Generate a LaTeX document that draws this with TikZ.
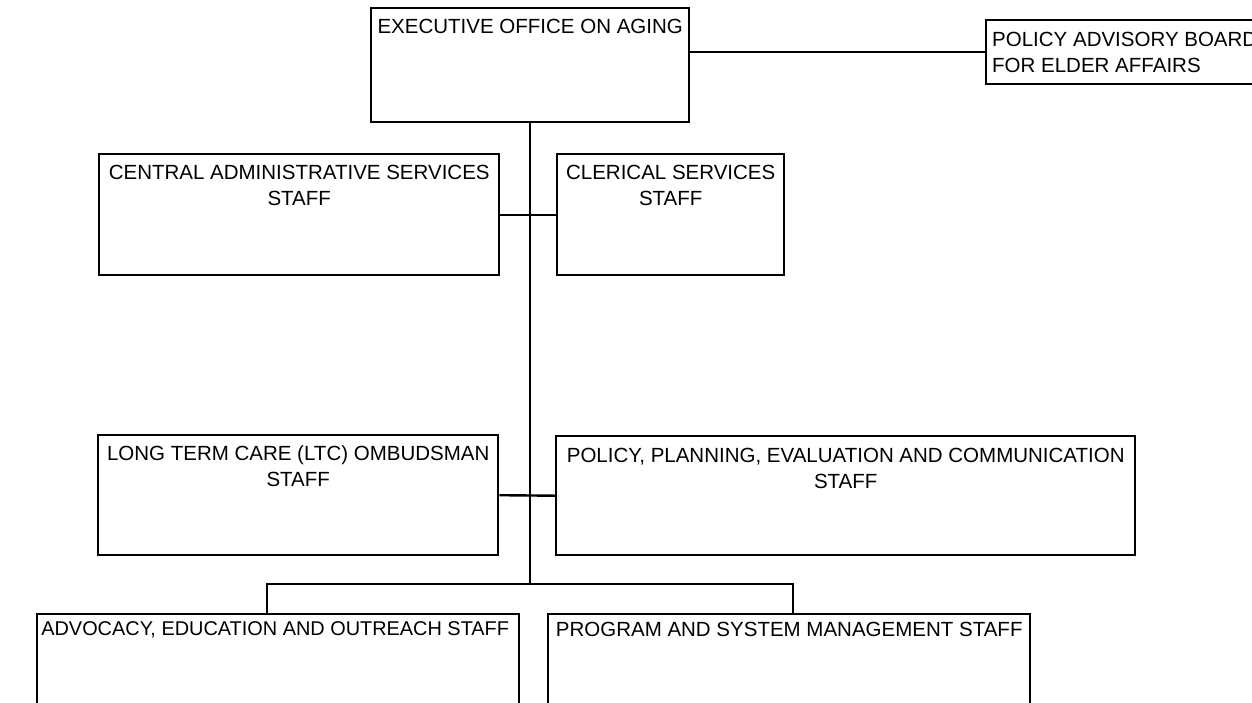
\documentclass[tikz,border=0pt]{standalone}
\usepackage{fontspec}
\setmainfont{Liberation Sans}
\newcommand{\orgfont}{\fontsize{20.5}{26}\selectfont}
\tikzset{
  unitbox/.style = {rectangle, draw=black, line width=2.4pt, anchor=north west,
    inner sep=0pt},% case de l'organigramme
  unittext/.style = {font=\orgfont, align=center, anchor=north, inner sep=0pt,
    yshift=-11.5pt},% titre de la case
  link/.style = {line width=2.4pt}% trait de liaison
}
\begin{document}
\begin{tikzpicture}[x=1pt, y=-1pt]
\clip (0,0) rectangle (1252,702);
\fill [white] (0,0) rectangle (1252,702);
% top level
\node [unitbox, minimum width=318pt, minimum height=114pt,
  label={[unittext]north:EXECUTIVE OFFICE ON AGING}] (exec) at (370,7) {};
\node [unitbox, minimum width=290pt, minimum height=64pt,
  label={[unittext, align=left, anchor=north west, xshift=7pt, yshift=-1.5pt]north west:POLICY ADVISORY BOARD\\FOR ELDER AFFAIRS}] (board) at (985,19) {};
% staff
\node [unitbox, minimum width=400pt, minimum height=121pt,
  label={[unittext]north:CENTRAL ADMINISTRATIVE SERVICES\\STAFF}] (central) at (98,153) {};
\node [unitbox, minimum width=227pt, minimum height=121pt,
  label={[unittext]north:CLERICAL SERVICES\\STAFF}] (clerical) at (556,153) {};
\node [unitbox, minimum width=400pt, minimum height=120pt,
  label={[unittext]north:LONG TERM CARE (LTC) OMBUDSMAN\\STAFF}] (ltc) at (97,434) {};
\node [unitbox, minimum width=579pt, minimum height=119pt,
  label={[unittext, yshift=-1.5pt]north:POLICY, PLANNING, EVALUATION AND COMMUNICATION\\STAFF}] (ppec) at (555,435) {};
% bottom row
\node [unitbox, minimum width=482pt, minimum height=100pt,
  label={[unittext, font=\fontsize{19.9}{26}\selectfont, xshift=-3pt, yshift=3pt]north:ADVOCACY, EDUCATION AND OUTREACH STAFF}] (adv) at (36,613) {};
\node [unitbox, minimum width=482pt, minimum height=100pt,
  label={[unittext, yshift=3pt]north:PROGRAM AND SYSTEM MANAGEMENT STAFF}] (prog) at (547,613) {};
\coordinate (busl) at (267,584);
\coordinate (busr) at (793,584);
% links
\draw [link] (exec.east |- board.west) -- (board.west);
\draw [link] (exec.south) -- (exec.south |- busl);
\draw [link] (central.east) -- (clerical.west);
\draw [link] (ltc.east) -- (ppec.west);
\draw [link] (busl |- adv.north) -- (busl) -- (busr) -- (busr |- prog.north);
\end{tikzpicture}
\end{document}
